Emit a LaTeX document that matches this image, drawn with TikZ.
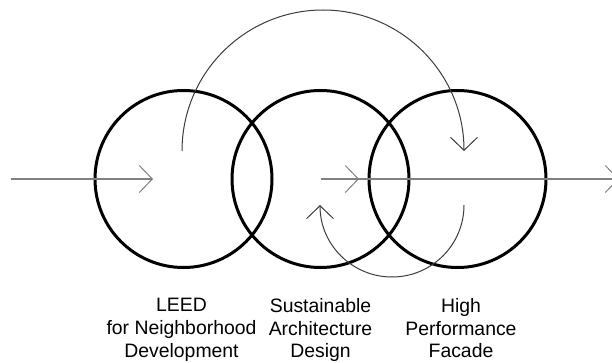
\documentclass[tikz,border=0pt]{standalone}
\usepackage{fontspec}
\setmainfont{Liberation Sans}
\usepackage{tikz}
\usetikzlibrary{arrows.meta, positioning}
\definecolor{flowgray}{RGB}{128,128,128}
\definecolor{loopgray}{RGB}{60,60,60}

\begin{document}
\begin{tikzpicture}[x=1pt, y=1pt, font=\fontsize{19.4}{22.7}\selectfont,
  ring/.style={draw, circle, line width=3pt, minimum size=177pt, inner sep=0pt},
  lbl/.style={anchor=north, align=center, inner sep=0pt},
  chev/.style={-{Straight Barb[length=13pt, width=27pt, line width=1pt]}},
  flow/.style={chev, draw=flowgray, line width=1.6pt},
  loop/.style={chev, draw=loopgray, line width=1pt}]
  \useasboundingbox (0,0) rectangle (612,362);
  \node[ring] (leed) at (183.5,183) {};
  \node[ring] (sad)  at (320.5,183) {};
  \node[ring] (hpf)  at (457.5,183) {};
  \node[lbl] (leedtxt) at (181.5,63.9) {LEED\\for Neighborhood\\Development};
  \node[lbl] (sadtxt)  at (320.5,63.9) {Sustainable\\Architecture\\Design};
  \node[lbl] (hpftxt)  at (461,63.9)   {High\\Performance\\Facade};
  \coordinate (in) at (11,183);  \coordinate (leedin) at (153,183);
  \coordinate (sadin) at (359,183); \coordinate (out) at (619,183);
  \coordinate (topstart) at (182,211); \coordinate (loopstart) at (464,157);
  \draw[flow] (in) -- (leedin);
  \draw[flow] (sad.center) -- (out); \draw[flow] (sad.center) -- (sadin);
  \draw[loop] (topstart) arc[start angle=180, end angle=0, radius=141];
  \draw[loop] (loopstart) arc[start angle=0, end angle=-180, radius=72];
\end{tikzpicture}
\end{document}
